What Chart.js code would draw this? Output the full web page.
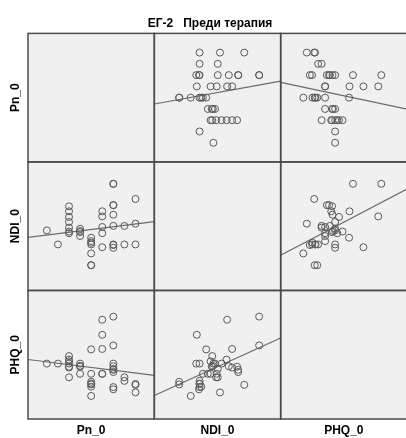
<!DOCTYPE html>
<html>
<head>
<meta charset="utf-8">
<script src="https://cdn.jsdelivr.net/npm/chart.js@4.4.1/dist/chart.umd.min.js"></script>
<style>
  html, body { margin: 0; padding: 0; background: #fff; overflow: hidden; }
  canvas { display: block; }
</style>
</head>
<body>
<canvas id="matrix" width="412" height="438"></canvas>
<script>
// one entry per patient, same order in all three arrays
const pn = [
  2, 3,
  4, 4, 4, 4, 4, 4, 4,
  5, 5, 5, 5,
  6, 6, 6, 6, 6, 6, 6,
  7, 7, 7, 7, 7,
  8, 8, 8, 8, 8, 8, 8, 8, 8,
  9, 9,
  10, 10, 10,
];
const ndi = [
  14.2, 11.7,
  18.5, 17.6, 16.6, 15.7, 14.7, 14.0, 13.7,
  13.2, 13.9, 14.5, 14.1,
  8.0, 8.0, 10.1, 12.3, 12.9, 11.7, 12.0,
  16.7, 11.2, 17.6, 13.7, 14.8,
  22.5, 22.5, 18.7, 18.7, 17.0, 15.0, 11.7, 11.6, 11.1,
  15.0, 11.7,
  19.8, 15.4, 11.7,
];
const phq = [
  10.3, 10.3,
  9.6, 9.4, 11.2, 10.3, 7.2, 12.0, 10.8,
  8.0, 9.6, 10.3, 9.8,
  6.2, 5.6, 3.0, 8.0, 13.5, 5.8, 5.1,
  20.2, 16.8, 13.6, 8.0, 8.0,
  20.9, 14.4, 8.9, 8.4, 9.7, 9.1, 5.0, 4.5, 10.3,
  7.2, 6.4,
  5.5, 3.8, 5.7,
];

const varNames = ["Pn_0", "NDI_0", "PHQ_0"];
const varData = [pn, ndi, phq];
const axisMin = [0.3, 3.5, -2.2];
const axisMax = [11.7, 26.4, 26.8];

const labelFont = { family: "Arial, 'Liberation Sans', sans-serif", size: 12, weight: "bold" };

// least squares y = a + b*x
function linFit(xs, ys) {
  const n = xs.length;
  const mx = xs.reduce((s, v) => s + v, 0) / n;
  const my = ys.reduce((s, v) => s + v, 0) / n;
  let sxy = 0, sxx = 0;
  for (let i = 0; i < n; i++) {
    sxy += (xs[i] - mx) * (ys[i] - my);
    sxx += (xs[i] - mx) * (xs[i] - mx);
  }
  const b = sxy / sxx;
  return { a: my - b * mx, b: b };
}

const scales = {};
for (let i = 0; i < 3; i++) {
  scales["x" + i] = {
    type: "linear",
    position: "bottom",
    stack: "cols",
    min: axisMin[i],
    max: axisMax[i],
    ticks: { display: false },
    grid: { display: false },
    border: { display: false },
    title: { display: true, text: varNames[i], font: labelFont, color: "#000", padding: 0 },
    afterFit: (s) => { s.height = 19; },
  };
}
// left boxes are placed bottom-up, so add PHQ first to keep Pn on top
for (let i = 2; i >= 0; i--) {
  scales["y" + i] = {
    type: "linear",
    position: "left",
    stack: "rows",
    min: axisMin[i],
    max: axisMax[i],
    ticks: { display: false },
    grid: { display: false },
    border: { display: false },
    title: { display: true, text: varNames[i], font: labelFont, color: "#000", padding: 0 },
    afterFit: (s) => { s.width = 20; },
  };
}

const datasets = [];
for (let r = 0; r < 3; r++) {
  for (let c = 0; c < 3; c++) {
    if (r === c) continue;
    const xs = varData[c];
    const ys = varData[r];
    datasets.push({
      data: xs.map((v, k) => ({ x: v, y: ys[k] })),
      xAxisID: "x" + c,
      yAxisID: "y" + r,
      pointRadius: 3.5,
      pointBorderWidth: 1,
      pointBorderColor: "#5a5a5a",
      pointBackgroundColor: "rgba(0,0,0,0)",
    });
    const fit = linFit(xs, ys);
    datasets.push({
      data: [axisMin[c], axisMax[c]].map((x) => ({ x: x, y: fit.a + fit.b * x })),
      xAxisID: "x" + c,
      yAxisID: "y" + r,
      showLine: true,
      borderColor: "#6a6a6a",
      borderWidth: 1.2,
      pointRadius: 0,
    });
  }
}

// grey cell fill under the points, dark frame on top
const cellFrames = {
  id: "cellFrames",
  beforeDatasetsDraw(chart) {
    const ctx = chart.ctx;
    ctx.save();
    ctx.fillStyle = "#f0f0f0";
    for (let r = 0; r < 3; r++) {
      for (let c = 0; c < 3; c++) {
        const xs = chart.scales["x" + c], ys = chart.scales["y" + r];
        ctx.fillRect(xs.left, ys.top, xs.width, ys.height);
      }
    }
    ctx.restore();
  },
  afterDatasetsDraw(chart) {
    const ctx = chart.ctx;
    ctx.save();
    ctx.strokeStyle = "#4a4a4a";
    ctx.lineWidth = 1.5;
    for (let r = 0; r < 3; r++) {
      for (let c = 0; c < 3; c++) {
        const xs = chart.scales["x" + c], ys = chart.scales["y" + r];
        ctx.strokeRect(xs.left, ys.top, xs.width, ys.height);
      }
    }
    ctx.restore();
  },
};

new Chart(document.getElementById("matrix"), {
  type: "scatter",
  data: { datasets: datasets },
  options: {
    responsive: false,
    animation: false,
    events: [],
    layout: { padding: { left: 8, right: 0, top: 0, bottom: 0 } },
    scales: scales,
    plugins: {
      legend: { display: false },
      tooltip: { enabled: false },
      title: {
        display: true,
        text: "ЕГ-2   Преди терапия",
        font: labelFont,
        color: "#000",
        padding: { top: 16, bottom: 3 },
      },
    },
  },
  plugins: [cellFrames],
});
</script>
</body>
</html>
